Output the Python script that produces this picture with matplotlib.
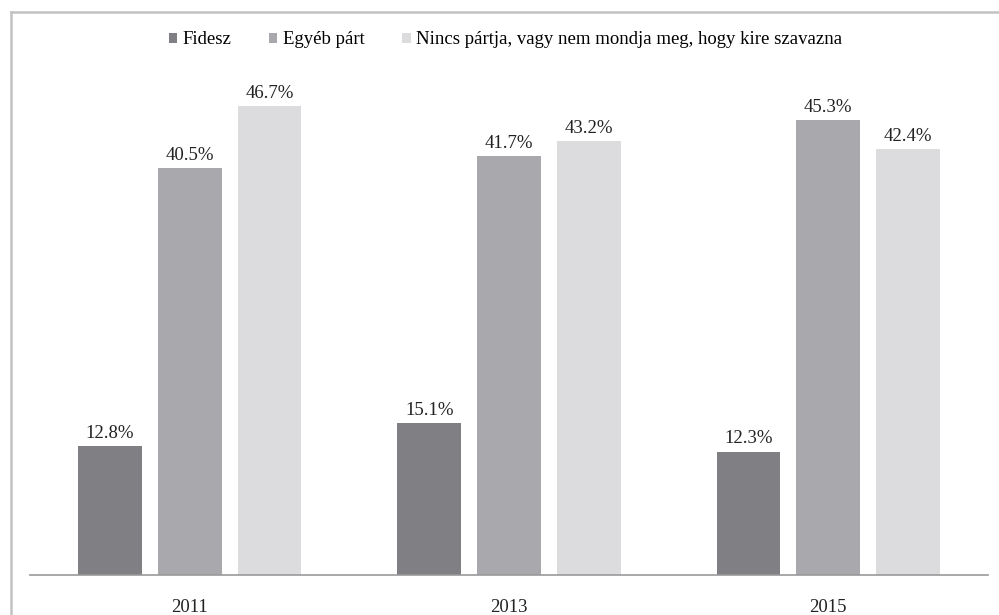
import matplotlib.pyplot as plt
from matplotlib.patches import Patch
from matplotlib.lines import Line2D
import numpy as np

years = ['2011', '2013', '2015']
series = ['Fidesz', 'Egyéb párt', 'Nincs pártja, vagy nem mondja meg, hogy kire szavazna']
fidesz = [12.8, 15.1, 12.3]
egyeb = [40.5, 41.7, 45.3]
nincs = [46.7, 43.2, 42.4]
colors = ['#7f7f84', '#a9a9ad', '#dcdcdf']

plt.rcParams['font.family'] = ['Liberation Serif', 'DejaVu Serif']

fig = plt.figure(figsize=(9.99, 6.15), dpi=100)
ax = fig.add_axes([30 / 999, 1 - 575 / 615, 958 / 999, (575 - 73) / 615])

x = np.arange(len(years))
width = 0.2
for i, (vals, col) in enumerate(zip([fidesz, egyeb, nincs], colors)):
    pos = x + (i - 1) * 0.25
    ax.bar(pos, vals, width, color=col)
    for p, v in zip(pos, vals):
        ax.text(p, v + 0.45, f'{v:.1f}%', ha='center', va='bottom', fontsize=13.5, color='#222222')

ax.set_xlim(-0.5, 2.5)
ax.set_ylim(0, 50)
ax.set_xticks(x)
ax.set_xticklabels(years, fontsize=13.5, color='#222222')
ax.tick_params(axis='x', length=0, pad=17)
ax.set_yticks([])
for s in ['top', 'left', 'right']:
    ax.spines[s].set_visible(False)
ax.spines['bottom'].set_color('#999999')
ax.spines['bottom'].set_linewidth(1.2)

handles = [Patch(facecolor=c, edgecolor='none') for c in colors]
fig.legend(handles, series, loc='center', bbox_to_anchor=(0.506, 1 - 40 / 615), ncol=3,
           frameon=False, prop={'family': 'Liberation Serif', 'size': 13.5},
           handlelength=0.45, handleheight=0.45, handletextpad=0.3, columnspacing=2.0)

# grey frame on left and top
fig.add_artist(Line2D([11 / 999, 11 / 999], [0, 1 - 12 / 615], transform=fig.transFigure,
                      color='#c2c2c2', linewidth=1.8))
fig.add_artist(Line2D([11 / 999, 1], [1 - 12 / 615, 1 - 12 / 615], transform=fig.transFigure,
                      color='#c2c2c2', linewidth=1.8))

fig.savefig('out.png', dpi=100)
